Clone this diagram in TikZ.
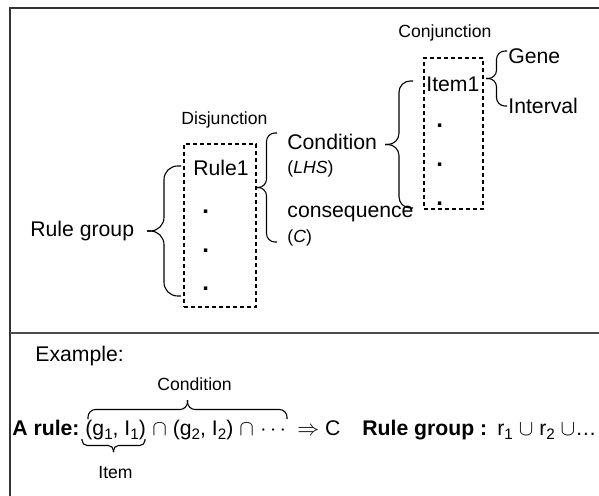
\documentclass[tikz,border=0pt]{standalone}
\usepackage{fontspec}
\setmainfont{Liberation Sans}
\usepackage{tikz}
\newcommand{\lowsub}[1]{\raisebox{-0.4ex}{\fontsize{7.6}{9}\selectfont #1}}

\begin{document}
\begin{tikzpicture}[x=0.5pt, y=-0.5pt,
  big/.style={font=\fontsize{10.6}{12.7}\selectfont, inner sep=0pt, anchor=base west},
  small/.style={font=\fontsize{8.8}{10.5}\selectfont, inner sep=0pt, anchor=base west},
  dot/.style={font=\fontsize{12}{14}\selectfont\bfseries, inner sep=0pt, anchor=base west},
  dbox/.style={draw, line width=0.6pt, dash pattern=on 2pt off 1.5pt, inner sep=0pt},
  brc/.style={line width=0.55pt},
  pics/lbrace/.style 2 args={code={
    \draw[brc, rounded corners=#2*0.2pt] (0,0) -- (#2/2,0) |- (#2,#1);
    \draw[brc, rounded corners=#2*0.2pt] (0,0) -- (#2/2,0) |- (#2,-#1);
  }}]
\useasboundingbox (0,0) rectangle (599,496);
% frame
\draw[line width=1pt, black!80] (599,8) -- (10,8) -- (10,496);
\draw[line width=1pt, black!70] (10,333) -- (599,333);

% rule group -> rules
\node[dbox, minimum width=36pt, minimum height=81.5pt] (disj) at (220,225.5) {};
\node[small] (disjlbl) at (181,125) {Disjunction};
\node[big] (rule1) at (193,176) {Rule1};
\foreach \y [count=\i] in {213.5,252.5,291}
  \node[dot] (rd\i) at (202,\y) {.};
\node[big] (rulegrp) at (30,237) {Rule group};
\pic at (147,231) {lbrace={65}{34}};

% rule -> condition, consequence
\pic at (256,187.5) {lbrace={54.5}{21}};
\node[big] (cond) at (287,150) {Condition};
\node[small] (lhs) at (287,174) {(\textit{LHS})};
\node[big] (conseq) at (287,218) {consequence};
\node[small] (cc) at (287,242.5) {(\textit{C})};

% condition -> items
\node[dbox, minimum width=29.5pt, minimum height=75.5pt] (conj) at (453.5,133.5) {};
\node[small] (conjlbl) at (398,37.5) {Conjunction};
\node[big] (item1) at (426,91.7) {Item1};
\foreach \y [count=\i] in {128,167,206}
  \node[dot] (cd\i) at (436,\y) {.};
\pic at (385,144.5) {lbrace={63.5}{28}};

% item -> gene, interval
\pic at (486,78.5) {lbrace={27.5}{21}};
\node[big] (gene) at (508,63.3) {Gene};
\node[big] (intv) at (508,113.3) {Interval};

% example
\node[big] (expl) at (35,361.7) {Example:};
\node[small] (condlbl) at (157,390) {Condition};
\pic[rotate=-90] at (187.5,400) {lbrace={99.5}{19}};
\node[big] (arule) at (12,435) {\bfseries A rule:};
\node[big] (pair1) at (85,435) {(g\lowsub{1}, I\lowsub{1})};
\node[big] (pair2) at (152,435) {$\cap$ (g\lowsub{2}, I\lowsub{2}) $\cap$};
\node[big] (cdots) at (260,435) {$\cdots$};
\node[big] (impl) at (297,435) {$\Rightarrow$ C};
\node[big] (grp) at (362,435) {\bfseries Rule group :};
\node[big] (union) at (497,435) {r\lowsub{1} $\cup$ r\lowsub{2} $\cup$…};
\pic[rotate=90] at (113.5,452) {lbrace={31.5}{13}};
\node[small] (itemlbl) at (98,478.3) {Item};

\end{tikzpicture}
\end{document}
